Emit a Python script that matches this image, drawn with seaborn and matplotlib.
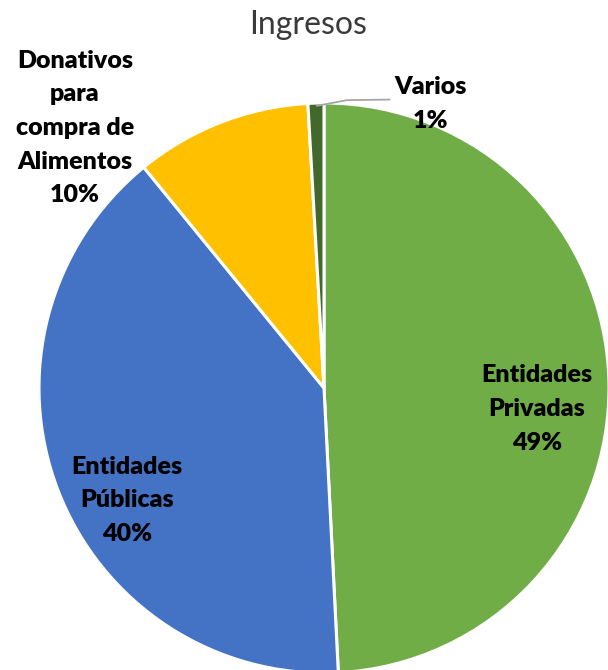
import matplotlib
matplotlib.use("Agg")
import matplotlib.pyplot as plt
import seaborn as sns

categories = ["Entidades\nPrivadas", "Entidades\nPúblicas", "Donativos\npara\ncompra de\nAlimentos", "Varios"]
values = [49.2, 39.9, 10.0, 0.9]
pct_labels = ["49%", "40%", "10%", "1%"]
colors = ["#70AD47", "#4472C4", "#FFC000", "#43682B"]

sns.set_style("white")
plt.rcParams['font.family'] = ['Lato', 'DejaVu Sans']

fig = plt.figure(figsize=(6.08, 6.70), dpi=100)
# pie is bigger than the frame, so the axes runs off the right and bottom edge
ax = fig.add_axes([39 / 608, -3 / 670, 570 / 608, 570 / 670])
wedges, _ = ax.pie(values, colors=colors, startangle=90, counterclock=False,
                   wedgeprops=dict(edgecolor="white", linewidth=2.2))
for w in wedges:
    w.set_clip_on(False)
ax.set_xlim(-1, 1)
ax.set_ylim(-1, 1)
ax.set_aspect("equal")
ax.axis("off")

# label spots in axes data units
label_pos = [(0.747, -0.074), (-0.691, -0.394), (-0.874, 0.912), (0.372, 0.996)]
for (x, y), cat, pct in zip(label_pos, categories, pct_labels):
    ax.text(x, y, cat + "\n" + pct, ha="center", va="center", fontsize=18,
            fontweight="heavy", color="black", linespacing=1.65, clip_on=False)

# leader line for Varios
ax.plot([-0.025, 0.08, 0.23], [0.99, 1.01, 1.012], color="#A6A6A6", lw=1.3, clip_on=False)

fig.text(0.507, 0.962, "Ingresos", ha="center", va="center", fontsize=23,
         color="#3A3A3A", fontweight="normal")

fig.savefig("out.png", dpi=100)
